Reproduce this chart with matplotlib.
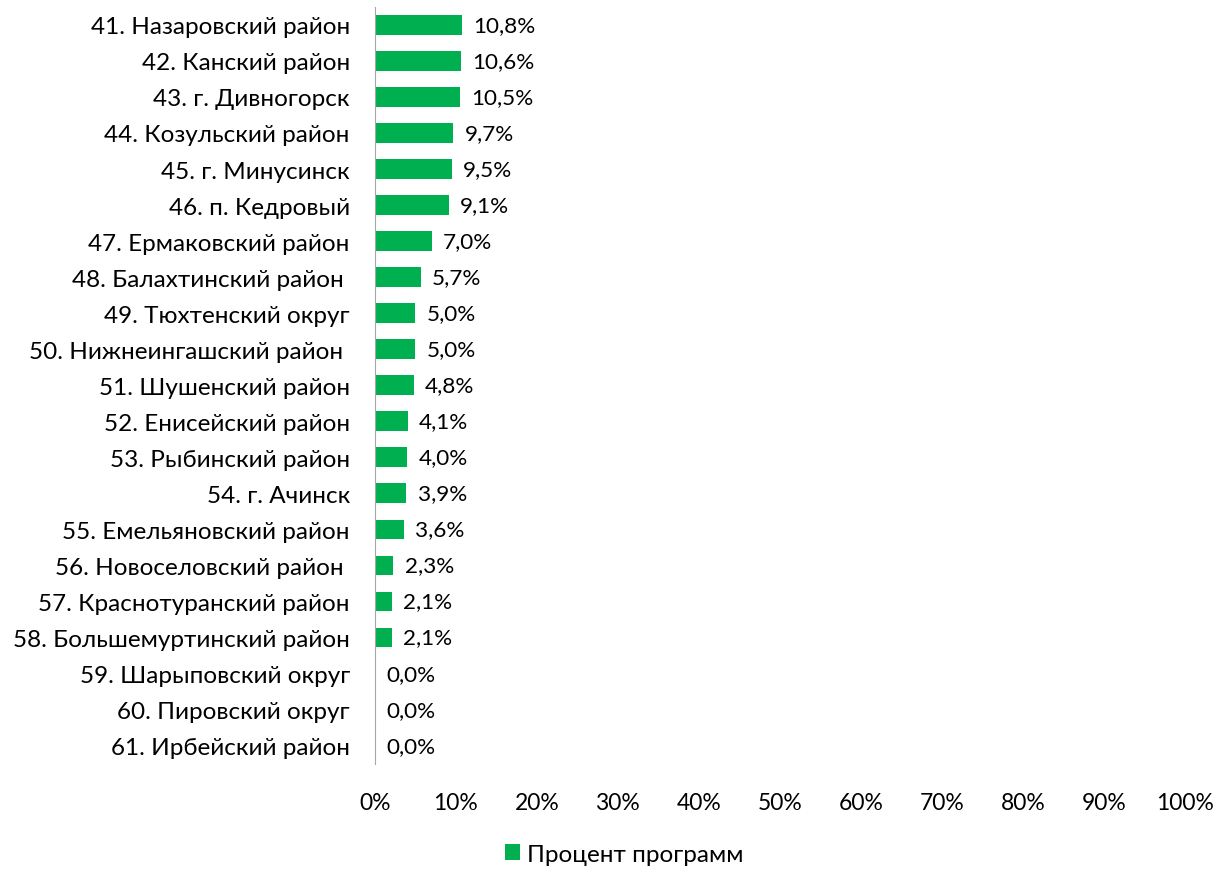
import matplotlib.pyplot as plt
from matplotlib.ticker import PercentFormatter

plt.rcParams['font.family'] = ['Lato', 'DejaVu Sans']

districts = [
    '41. Назаровский район', '42. Канский район', '43. г. Дивногорск',
    '44. Козульский район', '45. г. Минусинск', '46. п. Кедровый',
    '47. Ермаковский район', '48. Балахтинский район ',
    '49. Тюхтенский округ', '50. Нижнеингашский район ',
    '51. Шушенский район', '52. Енисейский район', '53. Рыбинский район',
    '54. г. Ачинск', '55. Емельяновский район', '56. Новоселовский район ',
    '57. Краснотуранский район', '58. Большемуртинский район',
    '59. Шарыповский округ', '60. Пировский округ', '61. Ирбейский район',
]
percent = [10.8, 10.6, 10.5, 9.7, 9.5, 9.1, 7.0, 5.7, 5.0, 5.0, 4.8, 4.1,
           4.0, 3.9, 3.6, 2.3, 2.1, 2.1, 0.0, 0.0, 0.0]

GREEN = '#00B050'

fig = plt.figure(figsize=(12.29, 8.7), dpi=100)
ax = fig.add_axes([0.305, 0.121, 0.659, 0.870])

pos = list(range(len(districts)))
bars = ax.barh(pos, percent, height=0.55, color=GREEN, label='Процент программ')
ax.set_ylim(len(districts) - 0.5, -0.5)
ax.set_xlim(0, 100)
ax.set_yticks(pos)
ax.set_yticklabels(districts, fontsize=17.5)
ax.set_xticks(range(0, 101, 10))
ax.xaxis.set_major_formatter(PercentFormatter(100, decimals=0))
ax.tick_params(axis='both', length=0, colors='#000000')
ax.tick_params(axis='x', labelsize=16.5, pad=20)
ax.tick_params(axis='y', pad=18)

for s in ['top', 'right', 'bottom']:
    ax.spines[s].set_visible(False)
ax.spines['left'].set_color('#A6A6A6')

for rect, v in zip(bars, percent):
    ax.annotate(f'{v:.1f}%'.replace('.', ','),
                (rect.get_width(), rect.get_y() + rect.get_height() / 2),
                xytext=(8, 0), textcoords='offset points',
                va='center', ha='left', fontsize=16.2)

fig.legend(handles=[bars], labels=['Процент программ'], loc='center',
           bbox_to_anchor=(0.508, 0.017), frameon=False, fontsize=17.5,
           handlelength=0.6, handleheight=0.6, handletextpad=0.3)

fig.savefig('out.png', dpi=100)
